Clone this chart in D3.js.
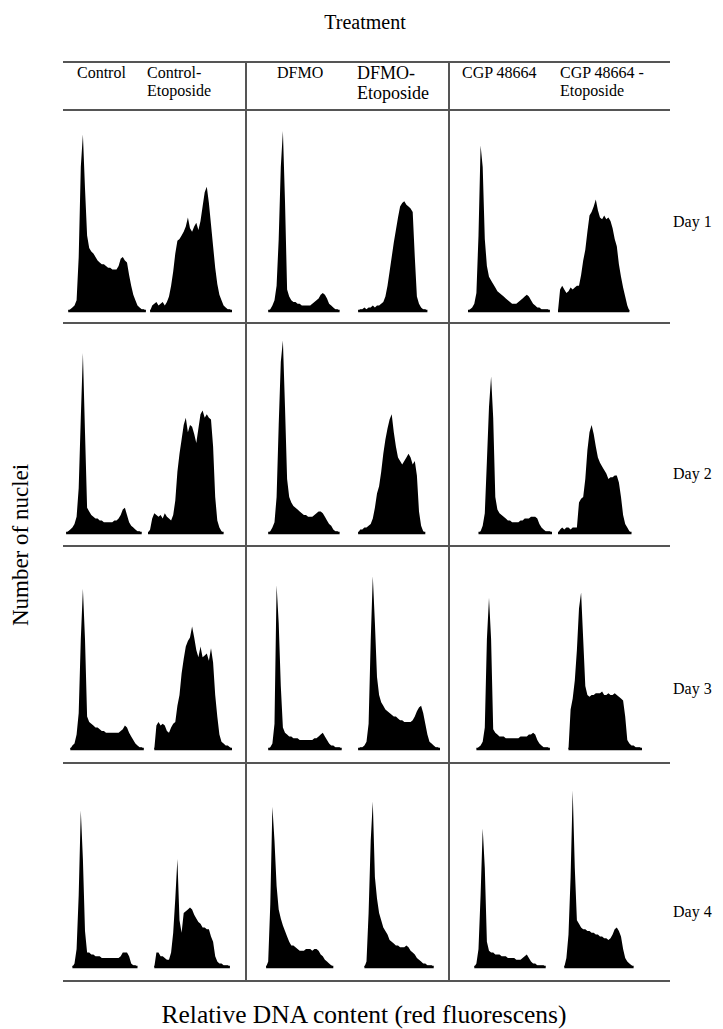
<!DOCTYPE html>
<html>
<head>
<meta charset="utf-8">
<script src="https://cdn.jsdelivr.net/npm/d3@7"></script>
<style>
  body { margin: 0; background: #fff; }
  svg { display: block; font-family: "Liberation Serif", "Times New Roman", serif; }
</style>
</head>
<body>
<svg id="chart" width="723" height="1029"></svg>
<script>
var treatments = [["Control"], ["Control-", "Etoposide"], ["DFMO"], ["DFMO-", "Etoposide"], ["CGP 48664"], ["CGP 48664 -", "Etoposide"]];
var days = ["Day 1", "Day 2", "Day 3", "Day 4"];

// relative number of nuclei per DNA-content channel, one list per day
var control = [
  [0,0,0,1,2,3,6,30,80,98,68,42,35,33,32,30,28,27,26,26,25,24,24,23,23,23,25,29,30,28,27,20,14,9,6,3,2,1,1,0,0],
  [0,0,1,2,3,5,9,25,64,100,56,14,12,10,9,8,8,7,7,6,6,6,6,6,7,7,8,10,13,14,10,6,4,3,2,1,1,0,0,0,0],
  [0,0,0,0,2,3,8,20,61,89,61,18,15,14,13,12,12,11,10,10,9,9,9,9,9,9,9,10,11,13,12,9,7,5,3,2,1,1,0,0,0],
  [0,0,0,0,0,2,10,40,87,60,20,8,8,7,7,6,6,6,5,5,5,5,5,5,5,5,5,6,8,8,8,6,2,1,1,0,0,0,0,0,0]
];
var controlEtoposide = [
  [0,0,3,4,5,3,4,5,3,5,8,14,22,32,39,40,42,44,47,52,46,44,47,49,45,50,58,66,69,60,48,36,24,15,9,6,3,2,1,1,0],
  [0,2,8,11,10,9,10,8,11,9,8,7,10,18,34,44,52,60,64,56,60,59,55,50,58,66,68,64,66,64,63,48,20,7,3,1,0,0,0,0,0],
  [0,0,0,0,13,15,13,14,13,10,9,12,14,15,24,30,42,50,57,60,62,68,62,55,51,57,51,52,53,49,56,48,30,18,8,4,3,2,2,1,0],
  [0,0,0,0,8,8,6,6,5,4,4,8,19,38,60,26,19,30,31,32,33,32,29,27,25,24,22,22,21,21,17,14,6,3,2,2,1,1,1,0,0]
];
var dfmo = [
  [0,0,0,1,3,6,14,40,80,100,61,12,8,6,5,5,4,4,3,3,3,3,3,4,5,6,7,9,10,9,7,4,3,2,1,1,0,0,0,0,0],
  [0,0,0,1,3,6,20,60,95,107,70,30,20,17,15,14,13,12,11,10,10,9,9,9,10,11,12,12,11,9,7,5,4,2,1,1,0,0,0,0,0],
  [0,0,0,1,3,14,91,70,35,12,9,8,7,7,6,6,6,5,5,5,5,5,5,5,6,6,7,8,9,7,5,3,2,2,1,1,1,0,0,0,0],
  [0,0,3,35,89,70,45,32,27,23,20,17,14,12,12,11,10,9,9,9,10,10,10,9,10,10,9,7,6,4,3,2,1,0,0,0,0,0,0,0,0]
];
var dfmoEtoposide = [
  [0,0,1,1,2,1,2,2,3,2,3,3,4,5,8,14,22,30,38,45,52,58,60,61,59,58,57,55,30,8,4,2,1,1,0,0,0,0,0,0,0],
  [0,0,2,2,3,3,4,5,8,14,22,26,34,44,52,58,63,66,56,48,42,40,38,40,42,44,42,38,40,32,12,4,1,0,0,0,0,0,0,0,0],
  [0,0,1,1,2,4,14,60,96,70,40,30,26,24,22,21,20,19,18,18,17,16,16,15,15,15,15,16,18,21,23,24,20,14,8,4,3,2,1,1,0],
  [0,0,0,0,0,3,30,70,92,50,38,30,26,22,20,18,15,14,13,12,12,11,11,11,12,11,9,8,7,5,4,3,2,2,1,1,1,0,0,0,0]
];
var cgp = [
  [0,1,2,4,10,42,92,80,40,25,19,17,15,13,11,10,9,8,7,6,5,4,4,4,5,6,7,8,9,8,6,4,3,2,2,1,1,1,1,0,0],
  [0,0,0,0,0,0,1,4,11,40,70,87,64,20,13,11,10,9,8,7,7,6,6,6,6,7,7,8,8,8,9,9,9,8,5,3,2,1,1,1,0],
  [0,0,0,0,0,1,2,4,12,61,84,61,11,9,8,7,7,7,6,6,6,6,6,6,6,7,7,7,7,8,8,9,8,5,3,2,1,1,1,0,0],
  [0,0,0,0,2,10,40,77,55,14,9,8,8,7,7,7,6,6,6,5,5,5,5,4,4,4,5,6,7,5,3,2,2,1,1,1,1,0,0,0,0]
];
var cgpEtoposide = [
  [0,12,14,12,10,11,13,12,13,14,14,20,28,34,44,53,55,58,62,56,52,51,53,51,52,50,46,40,36,26,19,13,8,3,0,0,0,0,0,0,0],
  [0,2,3,2,3,3,2,3,3,3,17,19,20,30,46,56,60,55,48,42,39,37,35,33,30,31,31,32,32,28,20,10,5,3,1,0,0,0,0,0,0],
  [0,0,0,0,0,0,22,28,38,55,78,87,61,35,30,29,30,30,31,31,31,32,30,30,31,30,30,31,30,29,28,27,18,5,3,2,2,1,1,1,0],
  [0,0,0,0,5,18,50,98,55,26,24,22,21,21,20,20,19,19,18,18,17,17,16,16,15,16,18,21,22,20,17,10,5,3,2,1,0,0,0,0,0]
];
var series = [control, controlEtoposide, dfmo, dfmoEtoposide, cgp, cgpEtoposide];

var svg = d3.select("#chart");
var lineColor = "#555";

var gridLeft = 63, gridRight = 670, gridTop = 62, headerBottom = 110;
var rowLines = [323, 546, 763, 981];
var colLines = [246, 449];
var baselines = [311, 533, 749, 967];
var colStart = [64, 148, 264, 356, 468, 558];
var histWidth = 84, histHeight = 180;

function draw_grid() {
  var g = svg.append("g").attr("id", "grid")
    .attr("stroke", lineColor).attr("stroke-width", 2);
  [gridTop, headerBottom].concat(rowLines).forEach(function(y) {
    g.append("line").attr("x1", gridLeft).attr("x2", gridRight).attr("y1", y).attr("y2", y);
  });
  colLines.forEach(function(x) {
    g.append("line").attr("x1", x).attr("x2", x).attr("y1", gridTop).attr("y2", rowLines[3]);
  });
}

function draw_labels() {
  svg.append("text").attr("x", 365).attr("y", 29)
    .attr("text-anchor", "middle").style("font-size", "20px").text("Treatment");

  var headX = [77, 147, 277, 357, 462, 560];
  treatments.forEach(function(lines, k) {
    var big = k == 3;
    lines.forEach(function(s, j) {
      svg.append("text")
        .attr("x", headX[k])
        .attr("y", (big ? 79 : 78) + j * (big ? 20 : 18))
        .style("font-size", big ? "18px" : "16px")
        .text(s);
    });
  });

  var dayY = [227, 479, 694, 917];
  days.forEach(function(d, r) {
    svg.append("text").attr("x", 673).attr("y", dayY[r])
      .style("font-size", "16px").text(d);
  });

  svg.append("text").attr("transform", "translate(28,545) rotate(-90)")
    .attr("text-anchor", "middle").style("font-size", "23px").text("Number of nuclei");
  svg.append("text").attr("x", 364).attr("y", 1023)
    .attr("text-anchor", "middle").style("font-size", "25.5px").text("Relative DNA content (red fluorescens)");
}

function draw_histograms() {
  var g = svg.append("g").attr("id", "histograms");
  series.forEach(function(treatment, c) {
    treatment.forEach(function(values, r) {
      var x = d3.scaleLinear().domain([0, 40]).range([colStart[c], colStart[c] + histWidth]);
      var y = d3.scaleLinear().domain([0, 100]).range([baselines[r], baselines[r] - histHeight]);
      var area = d3.area()
        .x(function(d, i) { return x(i); })
        .y0(y(0))
        .y1(function(d) { return y(d); });

      g.append("path").datum(values)
        .attr("d", area)
        .attr("fill", "#000");

      var first = values.findIndex(function(v) { return v > 0; });
      var last = values.length - 1;
      while (last > 0 && values[last] == 0) last--;
      g.append("line")
        .attr("x1", x(first - 1)).attr("x2", x(last + 1))
        .attr("y1", y(0)).attr("y2", y(0))
        .attr("stroke", "#000").attr("stroke-width", 2.5);
    });
  });
}

draw_grid();
draw_histograms();
draw_labels();
</script>
</body>
</html>
